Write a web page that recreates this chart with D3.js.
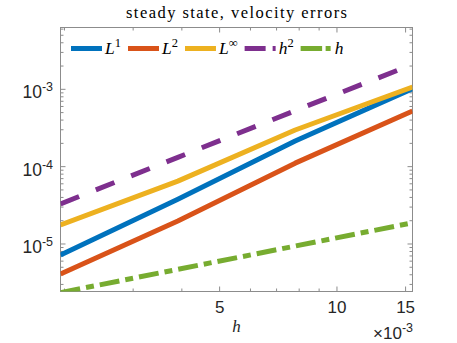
<!DOCTYPE html>
<html>
<head>
<meta charset="utf-8">
<script src="https://cdn.jsdelivr.net/npm/d3@7"></script>
<style>
  body { margin: 0; background: #fff; }
</style>
</head>
<body>
<div id="chart"></div>
<script>
// mesh sizes h = 1/512 .. 1/64
var hVals = [0.001953125, 0.00390625, 0.0078125, 0.015625];

// errors
var errL1   = [7.2e-6, 3.8e-5, 2.15e-4, 1.02e-3];
var errL2   = [4.1e-6, 1.98e-5, 1.11e-4, 5.24e-4];
var errLinf = [1.76e-5, 6.5e-5, 2.98e-4, 1.07e-3];
// reference slopes
var refH2 = [3.3e-5, 1.32e-4, 5.3e-4, 2.1e-3];
var refH  = [2.35e-6, 4.7e-6, 9.4e-6, 1.88e-5];

var yDomain = [2.43e-6, 6.3e-3];
var xTicks = [5e-3, 10e-3, 15e-3],
    xTickLabels = ["5", "10", "15"];
var yTicks = [1e-5, 1e-4, 1e-3],
    yTickExp = ["-5", "-4", "-3"];

var width = 457,
    height = 343;
var plotL = 60.5, plotR = 412.5, plotT = 27.5, plotB = 291.5;

var axColor = "#8c8c8c",
    txtColor = "#262626";

var series = [
  {base: "L", sup: "1", vals: errL1,   color: "#0072BD", dash: null,        legDash: null},
  {base: "L", sup: "2", vals: errL2,   color: "#D95319", dash: null,        legDash: null},
  {base: "L", sup: "\u221E", vals: errLinf, color: "#EDB120", dash: null,   legDash: null},
  {base: "h", sup: "2", vals: refH2,   color: "#7E2F8E", dash: "20,18",     legDash: "21,7"},
  {base: "h", sup: "",  vals: refH,    color: "#77AC30", dash: "20,6,8,6",  legDash: "21.5,3.5,5,4"}
];

var x = d3.scaleLog().domain([hVals[0], hVals[hVals.length - 1]]).range([plotL, plotR]);
var y = d3.scaleLog().domain(yDomain).range([plotB, plotT]);

var svg = d3.select("#chart").append("svg")
    .attr("width", width)
    .attr("height", height);

svg.append("defs").append("clipPath").attr("id", "plotclip")
  .append("rect")
    .attr("x", plotL).attr("y", plotT)
    .attr("width", plotR - plotL).attr("height", plotB - plotT);

// ticks, inward on all four sides
var xMinor = x.ticks().filter(function(v) {
  return xTicks.every(function(t) { return Math.abs(t - v) / t > 1e-6; });
});
var yMinor = y.ticks().filter(function(v) {
  return yTicks.every(function(t) { return Math.abs(t - v) / t > 1e-6; });
});

function ticks(axisFn, scale, vals, size, tr) {
  var g = svg.append("g")
      .attr("transform", tr)
      .call(axisFn(scale).tickValues(vals).tickSize(size).tickFormat("").offset(0));
  g.select(".domain").remove();
  g.selectAll("line").attr("stroke", axColor).attr("stroke-width", 1);
  return g;
}

ticks(d3.axisBottom, x, xTicks, -5, "translate(0," + plotB + ")");
ticks(d3.axisBottom, x, xMinor, -3, "translate(0," + plotB + ")");
ticks(d3.axisTop, x, xTicks, -5, "translate(0," + plotT + ")");
ticks(d3.axisTop, x, xMinor, -3, "translate(0," + plotT + ")");
ticks(d3.axisLeft, y, yTicks, -5, "translate(" + plotL + ",0)");
ticks(d3.axisLeft, y, yMinor, -3, "translate(" + plotL + ",0)");
ticks(d3.axisRight, y, yTicks, -5, "translate(" + plotR + ",0)");
ticks(d3.axisRight, y, yMinor, -3, "translate(" + plotR + ",0)");

svg.append("rect")
    .attr("x", plotL).attr("y", plotT)
    .attr("width", plotR - plotL).attr("height", plotB - plotT)
    .attr("fill", "none")
    .attr("stroke", axColor)
    .attr("stroke-width", 1);

// tick labels
svg.append("g").selectAll("text")
  .data(xTicks)
  .enter().append("text")
    .attr("x", function(d) { return x(d); })
    .attr("y", 313)
    .attr("text-anchor", "middle")
    .attr("font-family", "Liberation Sans, Arial, sans-serif")
    .attr("font-size", 17)
    .attr("fill", txtColor)
    .text(function(d, i) { return xTickLabels[i]; });

var yl = svg.append("g").selectAll("text")
  .data(yTicks)
  .enter().append("text")
    .attr("x", 53)
    .attr("y", function(d) { return y(d) + 9; })
    .attr("text-anchor", "end")
    .attr("font-family", "Liberation Sans, Arial, sans-serif")
    .attr("font-size", 17.5)
    .attr("fill", txtColor);
yl.append("tspan").text("10");
yl.append("tspan").attr("dy", -7).attr("font-size", 12.5)
  .text(function(d, i) { return yTickExp[i]; });

// x exponent label
var ex = svg.append("text")
    .attr("x", 413).attr("y", 338.5)
    .attr("text-anchor", "end")
    .attr("font-family", "Liberation Sans, Arial, sans-serif")
    .attr("font-size", 17)
    .attr("fill", txtColor);
ex.append("tspan").text("\u00D710");
ex.append("tspan").attr("dy", -7).attr("font-size", 12.5).text("-3");

// x label
svg.append("text")
    .attr("x", (plotL + plotR) / 2).attr("y", 331.5)
    .attr("text-anchor", "middle")
    .attr("font-family", "Liberation Serif, serif")
    .attr("font-style", "italic")
    .attr("font-size", 17)
    .attr("fill", txtColor)
    .text("h");

// title
svg.append("text")
    .attr("x", (plotL + plotR) / 2).attr("y", 17.5)
    .attr("text-anchor", "middle")
    .attr("font-family", "Liberation Serif, serif")
    .attr("font-size", 16.5)
    .attr("textLength", 221)
    .attr("lengthAdjust", "spacing")
    .attr("fill", "#000")
    .text("steady state, velocity errors");

// data lines
var line = d3.line()
    .x(function(d) { return x(d[0]); })
    .y(function(d) { return y(d[1]); });

var plot = svg.append("g").attr("clip-path", "url(#plotclip)");
series.forEach(function(s) {
  plot.append("path")
      .datum(hVals.map(function(h, i) { return [h, s.vals[i]]; }))
      .attr("d", line)
      .attr("fill", "none")
      .attr("stroke", s.color)
      .attr("stroke-width", 5)
      .attr("stroke-linejoin", "round")
      .attr("stroke-dasharray", s.dash);
});

// legend, horizontal, no box
var lg = svg.append("g");
var legX = 71, legY = 48.5;
series.forEach(function(s) {
  lg.append("line")
      .attr("x1", legX).attr("x2", legX + 31)
      .attr("y1", legY).attr("y2", legY)
      .attr("stroke", s.color)
      .attr("stroke-width", 5)
      .attr("stroke-dasharray", s.legDash);
  var t = lg.append("text")
      .attr("x", legX + 34).attr("y", 53.5)
      .attr("font-family", "Liberation Serif, serif")
      .attr("font-size", 17.5)
      .attr("fill", "#000");
  t.append("tspan").attr("font-style", "italic").text(s.base);
  if (s.sup) t.append("tspan").attr("dy", -7).attr("font-size", 12.5).text(s.sup);
  legX += 34 + t.node().getComputedTextLength() + 7;
});
</script>
</body>
</html>
